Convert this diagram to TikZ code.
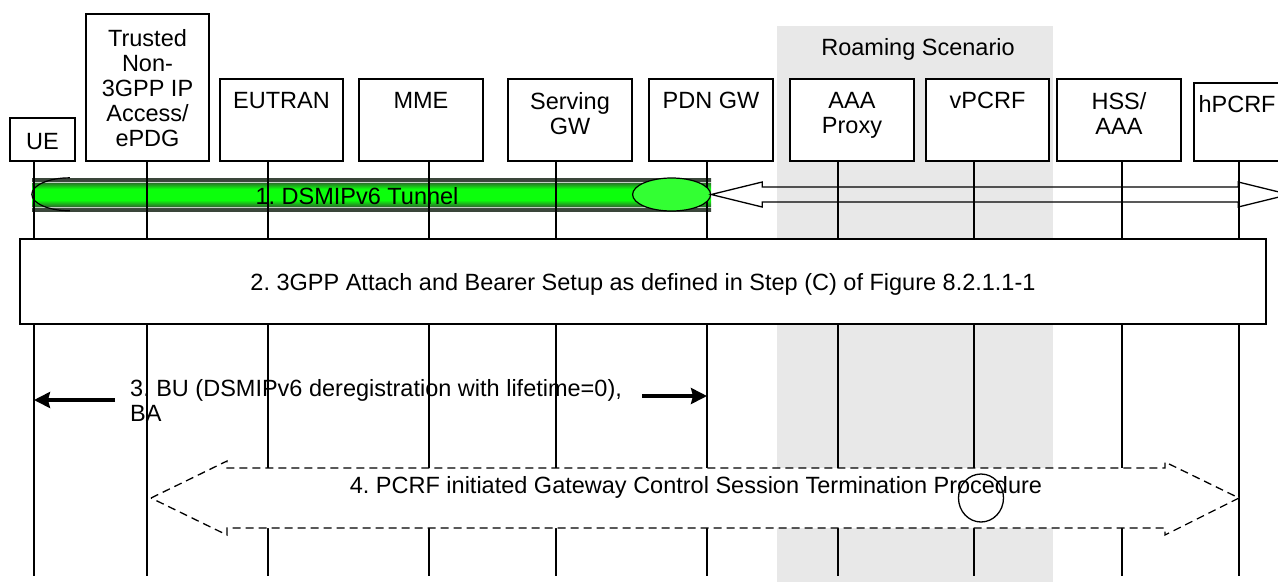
\documentclass[tikz,border=0pt]{standalone}
\usepackage{fontspec}
\setmainfont{Liberation Sans}
\usetikzlibrary{arrows.meta, shapes.geometric}

\definecolor{roam}{RGB}{232,232,232}
\definecolor{tdark}{RGB}{58,70,58}
\definecolor{tlight}{RGB}{200,212,200}
\definecolor{tmid}{RGB}{40,120,40}
\definecolor{tbright}{RGB}{12,255,12}
\definecolor{tunend}{RGB}{51,255,51}

\pgfdeclareverticalshading{tunnelshade}{100bp}{color(0bp)=(tdark); color(25bp)=(tdark); color(29.5bp)=(tdark); color(31bp)=(tlight); color(32.5bp)=(tmid); color(41.5bp)=(tbright); color(58.5bp)=(tbright); color(67.5bp)=(tmid); color(69bp)=(tlight); color(70.5bp)=(tdark); color(100bp)=(tdark)}

\newcommand{\diagfont}{\fontsize{23.5}{25}\selectfont\frenchspacing}

\begin{document}
\begin{tikzpicture}[
        x=1pt, y=-1pt,
        every node/.style={font=\diagfont},
        actor/.style={draw, line width=1.3pt, fill=white, minimum width=124pt, minimum height=82pt, inner sep=0pt},
        actortext/.style={anchor=north, align=center, inner sep=0pt},
        life/.style={line width=1.3pt},
        msg/.style={line width=3.2pt, -{Stealth[length=16pt, width=16pt, inset=2pt]}},
        hollow/.style={line width=1.3pt, line join=miter}
    ]
        \useasboundingbox (0,0) rectangle (1278,582);
        \clip (0,0) rectangle (1278,582);

        % roaming part
        \fill[roam] (777,26) rectangle (1053,582);
        \node[anchor=base] (roaming) at (918,55) {Roaming Scenario};

        % 1. tunnel
        \node[shade, shading=tunnelshade, minimum width=679pt, minimum height=33pt, inner sep=0pt] (tunnel) at (371.5,194.5) {};
        \draw[line width=1.2pt] (tunnel.north west) ++(38,0) arc[start angle=270, end angle=90, x radius=38, y radius=16.5];
        \node[anchor=base] (tuntxt) at (357,204) {1. DSMIPv6 Tunnel};

        % lifelines
        \coordinate (bottom) at (0,576);
        \foreach \n/\x in {ue/34, tr/147, eutran/268, mme/429, sgw/556, pgw/707, aaap/838, vpcrf/974, hss/1122, hpcrf/1239} {
            \coordinate (\n-l) at (\x,161);
            \draw[life] (\n-l) -- (\n-l |- bottom);
        }

        \node[draw, ellipse, line width=1.2pt, fill=tunend, minimum width=78pt, minimum height=33pt, inner sep=0pt, anchor=east] (tunend) at (tunnel.east) {};
        \draw[hollow] (tunnel.east) -- ++(51,-12.5) -- ++(0,5) -- ++(476,0) -- ++(0,-5) -- ++(51,12.5)
            -- ++(-51,12.5) -- ++(0,-5) -- ++(-476,0) -- ++(0,5) -- cycle;

        % actors
        \node[actor, minimum width=65pt, minimum height=43pt] (ue) at (42.5,139.5) {};
        \node[actortext] (ue-t) at ([yshift=-16pt]ue.north) {UE};
        \node[actor, minimum width=123pt, minimum height=147pt] (tr) at (147.5,87.5) {};
        \node[actortext] (tr-t) at ([yshift=-16pt]tr.north) {Trusted\\Non-\\3GPP IP\\Access/\\ePDG};
        \node[actor, minimum width=123pt] (eutran) at (281.5,120) {};
        \node[actortext] (eutran-t) at ([yshift=-14pt]eutran.north) {EUTRAN};
        \node[actor] (mme) at (421,120) {};
        \node[actortext] (mme-t) at ([yshift=-14pt]mme.north) {MME};
        \node[actor] (sgw) at (570,120) {};
        \node[actortext] (sgw-t) at ([yshift=-14pt]sgw.north) {Serving\\GW};
        \node[actor] (pgw) at (711,120) {};
        \node[actortext] (pgw-t) at ([yshift=-14pt]pgw.north) {PDN GW};
        \node[actor] (aaap) at (852,120) {};
        \node[actortext] (aaap-t) at ([yshift=-14pt]aaap.north) {AAA\\Proxy};
        \node[actor, minimum width=123pt] (vpcrf) at (987.5,120) {};
        \node[actortext] (vpcrf-t) at ([yshift=-14pt]vpcrf.north) {vPCRF};
        \node[actor] (hss) at (1119,120) {};
        \node[actortext] (hss-t) at ([yshift=-14pt]hss.north) {HSS/\\AAA};
        \node[actor, minimum width=98pt, minimum height=78pt] (hpcrf) at (1243,122) {};
        \node[actortext, anchor=north west] (hpcrf-t) at ([xshift=5pt, yshift=-13pt]hpcrf.north west) {hPCRF};

        % 2. attach
        \node[draw, line width=2.2pt, fill=white, minimum width=1246pt, minimum height=85pt, text depth=0pt] (attach) at (643,281.5)
            {2. 3GPP Attach and Bearer Setup as defined in Step (C) of Figure 8.2.1.1-1};

        % 3. BU / BA
        \node[anchor=north west, align=left, inner sep=0pt] (bu) at (130,379) {3. BU (DSMIPv6 deregistration with lifetime=0),\\BA};
        \coordinate (bu-s) at (115,400);
        \coordinate (ba-s) at (642,396);
        \draw[msg] (bu-s) -- (bu-s -| ue-l);
        \draw[msg] (ba-s) -- (ba-s -| pgw-l);

        % 4. gateway control session termination
        \coordinate (gw-tip) at (151,498);
        \draw[hollow, dash pattern=on 8pt off 5pt, fill=white] (gw-tip) -- ++(76,-37) -- ++(0,7) -- ++(938,0) -- ++(0,-6) -- ++(74,36)
            -- ++(-74,37) -- ++(0,-7) -- ++(-938,0) -- ++(0,7) -- cycle;
        \node[anchor=base] (gwterm) at (696,493) {4. PCRF initiated Gateway Control Session Termination Procedure};
        \node[draw, ellipse, line width=1.3pt, minimum width=45pt, minimum height=48pt, inner sep=0pt] (mark) at (981,498) {};
    \end{tikzpicture}
\end{document}
